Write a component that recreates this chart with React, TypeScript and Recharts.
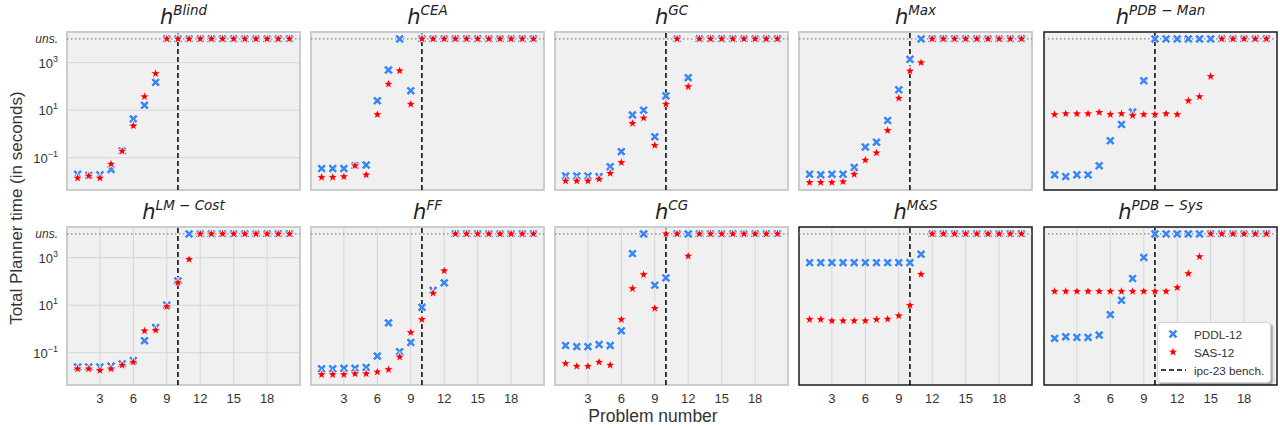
import React from 'react';
import { ScatterChart, Scatter, XAxis, YAxis, CartesianGrid, ReferenceLine, ReferenceArea, Legend } from 'recharts';

// "uns." row: unsolved problems are drawn at 10^4
const UNS = 10000;
const U = null;

const problems = [1, 2, 3, 4, 5, 6, 7, 8, 9, 10, 11, 12, 13, 14, 15, 16, 17, 18, 19, 20];
const xTicks = [3, 6, 9, 12, 15, 18];
const yTicks = [0.1, 10, 1000, UNS];
const yTickExp = ['−1', '1', '3', null];
const ipcBench = 10;

// Total planner time (s), per heuristic, problem 1..20
const blindPddl = [0.020, 0.018, 0.019, 0.032, 0.19, 4.3, 16, 148, U, U, U, U, U, U, U, U, U, U, U, U];
const blindSas = [0.014, 0.017, 0.014, 0.054, 0.19, 2.2, 37, 347, U, U, U, U, U, U, U, U, U, U, U, U];
const ceaPddl = [0.035, 0.035, 0.035, 0.046, 0.049, 25, 490, U, 66, U, U, U, U, U, U, U, U, U, U, U];
const ceaSas = [0.015, 0.015, 0.016, 0.046, 0.019, 6.6, 126, 457, 18, U, U, U, U, U, U, U, U, U, U, U];
const gcPddl = [0.017, 0.017, 0.017, 0.016, 0.042, 0.18, 6.3, 10, 0.76, 40, U, 234, U, U, U, U, U, U, U, U];
const gcSas = [0.0105, 0.0105, 0.0105, 0.0126, 0.022, 0.063, 2.8, 4.7, 0.33, 18, U, 98, U, U, U, U, U, U, U, U];
const maxPddl = [0.020, 0.019, 0.020, 0.020, 0.039, 0.28, 0.45, 3.7, 72, 1380, U, U, U, U, U, U, U, U, U, U];
const maxSas = [0.0091, 0.0091, 0.0091, 0.0098, 0.020, 0.079, 0.16, 1.4, 32, 447, 1000, U, U, U, U, U, U, U, U, U];
const pdbManPddl = [0.019, 0.016, 0.019, 0.019, 0.046, 0.52, 2.5, 8.3, 174, U, U, U, U, U, U, U, U, U, U, U];
const pdbManSas = [6.6, 7.1, 7.1, 7.1, 8.1, 6.6, 7.1, 6.0, 6.6, 6.6, 7.1, 6.6, 25, 37, 263, U, U, U, U, U];
const lmPddl = [0.025, 0.025, 0.025, 0.027, 0.034, 0.047, 0.32, 1.15, 10, 105, U, U, U, U, U, U, U, U, U, U];
const lmSas = [0.021, 0.021, 0.018, 0.021, 0.030, 0.040, 0.83, 0.89, 8.7, 89, 850, U, U, U, U, U, U, U, U, U];
const ffPddl = [0.021, 0.021, 0.022, 0.022, 0.024, 0.072, 1.8, 0.11, 0.27, 8.1, 42, 87, U, U, U, U, U, U, U, U];
const ffSas = [0.012, 0.012, 0.012, 0.013, 0.013, 0.0155, 0.0195, 0.066, 0.71, 2.5, 32, 282, U, U, U, U, U, U, U, U];
const cgPddl = [0.20, 0.18, 0.18, 0.22, 0.20, 0.83, 1480, U, 69, 141, U, U, U, U, U, U, U, U, U, U];
const cgSas = [0.035, 0.027, 0.027, 0.040, 0.030, 2.5, 50, 195, 7.4, U, U, 1170, U, U, U, U, U, U, U, U];
const msPddl = [617, 617, 617, 617, 617, 617, 617, 617, 617, 617, 1380, U, U, U, U, U, U, U, U, U];
const msSas = [2.5, 2.5, 2.2, 2.2, 2.2, 2.2, 2.5, 2.6, 3.6, 9.8, 200, U, U, U, U, U, U, U, U, U];
const pdbSysPddl = [0.40, 0.47, 0.44, 0.44, 0.55, 4.0, 16, 132, 1020, U, U, U, U, U, U, U, U, U, U, U];
const pdbSysSas = [38, 38, 38, 38, 38, 38, 38, 38, 38, 38, 38, 55, 214, 1100, U, U, U, U, U, U];

const panels = [
  { sup: 'Blind', pddl: blindPddl, sas: blindSas, dark: false },
  { sup: 'CEA', pddl: ceaPddl, sas: ceaSas, dark: false },
  { sup: 'GC', pddl: gcPddl, sas: gcSas, dark: false },
  { sup: 'Max', pddl: maxPddl, sas: maxSas, dark: false },
  { sup: 'PDB − Man', pddl: pdbManPddl, sas: pdbManSas, dark: true },
  { sup: 'LM − Cost', pddl: lmPddl, sas: lmSas, dark: false },
  { sup: 'FF', pddl: ffPddl, sas: ffSas, dark: false },
  { sup: 'CG', pddl: cgPddl, sas: cgSas, dark: false },
  { sup: 'M&S', pddl: msPddl, sas: msSas, dark: true },
  { sup: 'PDB − Sys', pddl: pdbSysPddl, sas: pdbSysSas, dark: true },
];

const X_DOMAIN = [0.05, 20.95];
const Y_DOMAIN = [0.00437, 19500];
const PLOT_W = 233;
const PLOT_H = 158;
const COL_LEFT = [67, 311, 555, 799, 1044];
const ROW_TOP = [32, 227];
const BLUE = '#3a86f4';
const RED = '#ff0000';
const SANS = '"Liberation Sans", Arial, sans-serif';

const toPoints = (vals: (number | null)[]) =>
  vals.map((v, i) => ({ x: problems[i], y: v === null ? UNS : v }));

const XMark = ({ cx, cy }: any) => {
  if (cx == null || cy == null) return null;
  const r = 5.1, w = 1.6;
  const pts = [
    [-w, -r], [w, -r], [w, -w], [r, -w], [r, w], [w, w],
    [w, r], [-w, r], [-w, w], [-r, w], [-r, -w], [-w, -w],
  ].map((p) => p.join(',')).join(' ');
  return (
    <polygon
      points={pts}
      transform={`translate(${cx},${cy}) rotate(45)`}
      fill={BLUE}
      stroke="#fff"
      strokeWidth={0.8}
    />
  );
};

const StarMark = ({ cx, cy }: any) => {
  if (cx == null || cy == null) return null;
  const R = 5.4, r = 2.2;
  const pts = [];
  for (let k = 0; k < 10; k++) {
    const a = (-90 + k * 36) * Math.PI / 180;
    const rad = k % 2 === 0 ? R : r;
    pts.push(`${(cx + rad * Math.cos(a)).toFixed(2)},${(cy + rad * Math.sin(a)).toFixed(2)}`);
  }
  return <polygon points={pts.join(' ')} fill={RED} stroke="#fff" strokeWidth={0.8} />;
};

const YTick = ({ x, y, payload }: any) => {
  const idx = yTicks.indexOf(payload.value);
  const exp = yTickExp[idx];
  if (exp === null) {
    return (
      <text x={x - 1} y={y} dy={4} textAnchor="end" fontStyle="italic" fontSize={12} fill="#333" fontFamily={SANS}>
        uns.
      </text>
    );
  }
  return (
    <text x={x - 1} y={y} dy={5} textAnchor="end" fontSize={13} fill="#333" fontFamily={SANS}>
      10<tspan dy={-6} fontSize={9}>{exp}</tspan>
    </text>
  );
};

const LegendBox = () => (
  <div
    style={{
      background: '#fff',
      border: '1px solid #d4d4d4',
      borderRadius: 4,
      boxShadow: '2px 2px 2px rgba(0,0,0,0.3)',
      padding: '2px 0 3px 0',
      width: 112,
      fontFamily: SANS,
      fontSize: 11.7,
      color: '#333',
    }}
  >
    {[
      { label: 'PDDL-12', icon: <XMark cx={15} cy={8} /> },
      { label: 'SAS-12', icon: <StarMark cx={15} cy={8} /> },
      {
        label: 'ipc-23 bench.',
        icon: <line x1={3} x2={28} y1={8} y2={8} stroke="#000" strokeWidth={1.5} strokeDasharray="5 3" />,
      },
    ].map((it) => (
      <div key={it.label} style={{ display: 'flex', alignItems: 'center', height: 18 }}>
        <svg width={36} height={16}>{it.icon}</svg>
        <span style={{ whiteSpace: 'nowrap' }}>{it.label}</span>
      </div>
    ))}
  </div>
);

const Panel = ({ p, idx }: any) => {
  const row = Math.floor(idx / 5);
  const col = idx % 5;
  const left = COL_LEFT[col];
  const top = ROW_TOP[row];
  const frame = p.dark ? '#1a1a1a' : '#cccccc';
  return (
    <>
      <div
        style={{
          position: 'absolute',
          left,
          top: top - 29,
          width: PLOT_W,
          textAlign: 'center',
          fontFamily: '"DejaVu Sans", sans-serif',
          fontStyle: 'italic',
          fontSize: 21,
          lineHeight: '28px',
          color: '#222',
          whiteSpace: 'nowrap',
        }}
      >
        h<span style={{ fontSize: 13.5, position: 'relative', top: -9 }}>{p.sup}</span>
      </div>
      <div style={{ position: 'absolute', left: left - 50, top: top - 6 }}>
        <ScatterChart width={50 + PLOT_W + 6} height={6 + PLOT_H + 30} margin={{ top: 6, right: 6, bottom: 0, left: 0 }}>
          <CartesianGrid
            fill="#f0f0f0"
            fillOpacity={1}
            stroke="#d6d6d6"
            strokeWidth={1}
            horizontalValues={[0.1, 10, 1000]}
            verticalValues={xTicks}
          />
          <XAxis
            dataKey="x"
            type="number"
            domain={X_DOMAIN}
            allowDataOverflow
            ticks={xTicks}
            interval={0}
            height={30}
            axisLine={false}
            tickLine={false}
            tickMargin={3}
            tick={row === 1 ? { fontSize: 13, fill: '#333', fontFamily: SANS } : false}
          />
          <YAxis
            dataKey="y"
            type="number"
            scale="log"
            domain={Y_DOMAIN}
            allowDataOverflow
            ticks={yTicks}
            interval={0}
            width={50}
            axisLine={false}
            tickLine={false}
            tick={col === 0 ? <YTick /> : false}
          />
          <ReferenceLine y={UNS} stroke="#808080" strokeWidth={1.2} strokeDasharray="1.5 2.5" />
          <Scatter data={toPoints(p.pddl)} shape={<XMark />} isAnimationActive={false} />
          <Scatter data={toPoints(p.sas)} shape={<StarMark />} isAnimationActive={false} />
          <ReferenceLine x={ipcBench} stroke="#000" strokeWidth={1.5} strokeDasharray="5 3" />
          <ReferenceArea
            x1={X_DOMAIN[0]}
            x2={X_DOMAIN[1]}
            y1={Y_DOMAIN[0]}
            y2={Y_DOMAIN[1]}
            fill="none"
            fillOpacity={0}
            stroke={frame}
            strokeWidth={p.dark ? 1.5 : 2}
            ifOverflow="visible"
          />
          {idx === 9 && (
            <Legend
              layout="vertical"
              align="center"
              verticalAlign="middle"
              wrapperStyle={{ left: 163, top: 101 }}
              content={<LegendBox />}
            />
          )}
        </ScatterChart>
      </div>
    </>
  );
};

export default function App() {
  return (
    <div
      style={{
        position: 'absolute',
        left: 0,
        top: 0,
        width: 1280,
        height: 428,
        background: '#fff',
        overflow: 'hidden',
        fontFamily: SANS,
      }}
    >
      {panels.map((p, i) => (
        <Panel key={p.sup} p={p} idx={i} />
      ))}
      <div
        style={{
          position: 'absolute',
          left: 17,
          top: 208,
          transform: 'translate(-50%, -50%) rotate(-90deg)',
          whiteSpace: 'nowrap',
          fontSize: 17,
          color: '#333',
          fontFamily: SANS,
        }}
      >
        Total Planner time (in seconds)
      </div>
      <div
        style={{
          position: 'absolute',
          left: 653,
          top: 416,
          transform: 'translate(-50%, -50%)',
          whiteSpace: 'nowrap',
          fontSize: 17.5,
          color: '#333',
          fontFamily: SANS,
        }}
      >
        Problem number
      </div>
    </div>
  );
}
